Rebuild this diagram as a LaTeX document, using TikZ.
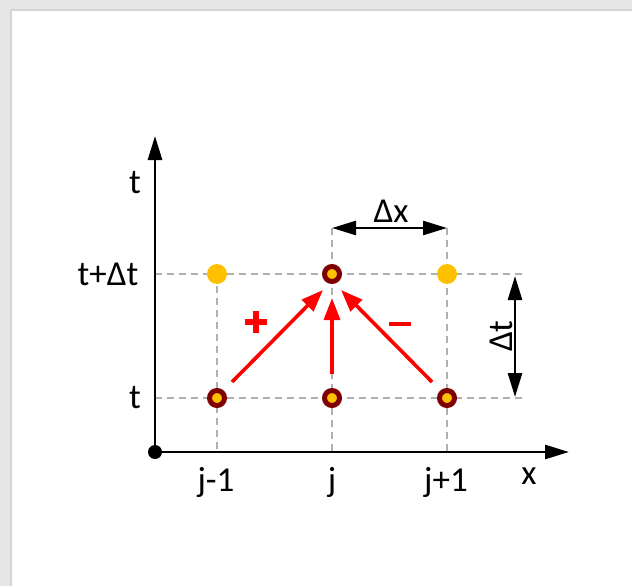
\documentclass[tikz,border=0pt]{standalone}
\usepackage{fontspec}
\setmainfont{Carlito}
\usetikzlibrary{arrows.meta}
\definecolor{bggray}{HTML}{E6E6E6}
\definecolor{edgegray}{HTML}{D4D4D4}
\definecolor{gold}{HTML}{FFC000}
\definecolor{darkred}{HTML}{7F0000}
\definecolor{gridgray}{HTML}{B0B0B0}
\begin{document}
\begin{tikzpicture}[x=1pt,y=-1pt,
  grid/.style={gridgray,dash pattern=on 7pt off 5pt,line width=1.3pt},
  axis/.style={line width=2.8pt,-{Triangle[length=24pt,width=14pt]}},
  dim/.style={line width=2.6pt,{Triangle[length=24pt,width=14pt]}-{Triangle[length=24pt,width=14pt]}},
  flow/.style={red,line width=3.6pt,-{Triangle[length=22pt,width=16pt]}},
  lbl/.style={font=\fontsize{35}{38}\selectfont,inner sep=0pt},
  old/.style={circle,fill=gold,draw=darkred,line width=5pt,minimum size=15pt,inner sep=0pt},
  unk/.style={circle,fill=gold,minimum size=20pt,inner sep=0pt}]
\useasboundingbox (0,0) rectangle (632,586);
\fill[bggray] (0,0) rectangle (632,586);
\fill[edgegray] (10,9) rectangle (632,586);
\fill[white] (12,11) rectangle (632,586);
% coordinates
\coordinate (O) at (155,452);
\coordinate (ytip) at (155,136);
\coordinate (xtip) at (569,452);
% grid
\draw[grid] (155,274) -- (525,274);
\draw[grid] (155,398) -- (525,398);
\draw[grid] (217,274) -- (217,452);
\draw[grid] (332,228) -- (332,452);
\draw[grid] (447,228) -- (447,452);
% axes
\draw[axis] (O) -- (ytip);
\draw[axis] (O) -- (xtip);
\fill (O) circle (7pt);
% points
\node[unk] (a1) at (217,274) {};
\node[unk] (a3) at (447,274) {};
\node[old] (a2) at (332,274) {};
\node[old] (b1) at (217,398) {};
\node[old] (b2) at (332,398) {};
\node[old] (b3) at (447,398) {};
% flows
\coordinate (s1) at (232,382);
\coordinate (e1) at (323,290);
\coordinate (s2) at (332,374);
\coordinate (e2) at (332,298);
\coordinate (s3) at (432,382);
\coordinate (e3) at (341,290);
\draw[flow] (s1) -- (e1);
\draw[flow] (s2) -- (e2);
\draw[flow] (s3) -- (e3);
% dimension arrows
\coordinate (dx1) at (332,228);
\coordinate (dx2) at (447,228);
\draw[dim] (dx1) -- (dx2);
\coordinate (dt1) at (515,276);
\coordinate (dt2) at (515,397);
\draw[dim] (dt1) -- (dt2);
% labels
\node[lbl] (lt) at (135,183) {t};
\node[lbl] (ltdt) at (108,274) {t+Δt};
\node[lbl] (lt0) at (135,398) {t};
\node[lbl] (lj1) at (216,482) {j-1};
\node[lbl] (lj) at (332,482) {j};
\node[lbl] (lj2) at (446,482) {j+1};
\node[lbl] (lx) at (529,476) {x};
\node[lbl] (ldx) at (391,211) {Δx};
\node[lbl,rotate=90] (ldt) at (501,336) {Δt};
% plus and minus signs
\coordinate (pc) at (256,322);
\draw[red,line width=6pt] ([xshift=-11pt]pc) -- ([xshift=11pt]pc);
\draw[red,line width=6pt] ([yshift=-11pt]pc) -- ([yshift=11pt]pc);
\coordinate (mc) at (400,324);
\draw[red,line width=3.5pt] ([xshift=-11pt]mc) -- ([xshift=11pt]mc);
\end{tikzpicture}
\end{document}
